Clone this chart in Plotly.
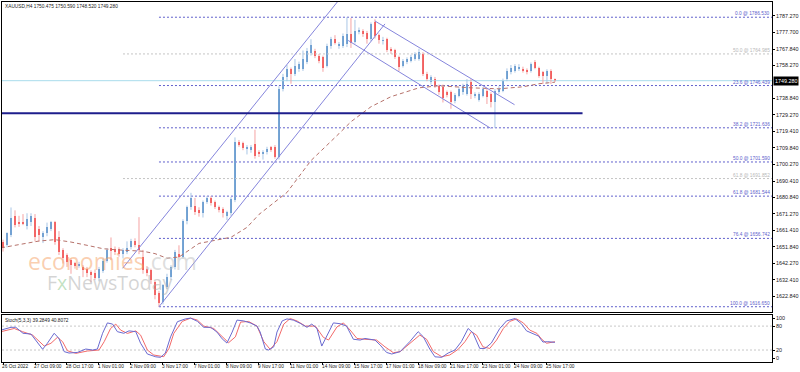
import plotly.graph_objects as go

# ---------------- data ----------------
opens = [1654.4, 1652.7, 1658.5, 1669.6, 1666.1, 1666.5, 1664.3, 1666.1, 1669.0, 1662.5,
         1657.3, 1659.7, 1662.5, 1666.1, 1657.3, 1649.8, 1646.8, 1643.9, 1642.2, 1640.6,
         1639.9, 1638.7, 1637.0, 1636.5, 1633.5, 1637.5, 1643.3, 1650.9, 1650.3, 1650.3,
         1647.4, 1648.6, 1651.5, 1655.0, 1652.7, 1646.0, 1638.5, 1638.1, 1631.0, 1624.6,
         1619.5, 1628.5, 1634.0, 1640.0, 1647.5, 1646.0, 1667.0, 1675.0, 1675.5, 1673.2,
         1671.4, 1678.0, 1680.2, 1677.9, 1675.0, 1673.8, 1670.0, 1671.4, 1679.0, 1713.1,
         1712.5, 1709.0, 1708.7, 1712.2, 1707.3, 1706.0, 1707.3, 1710.2, 1710.2, 1704.3,
         1744.4, 1751.2, 1756.1, 1753.1, 1756.1, 1756.1, 1760.0, 1765.4, 1766.8, 1763.9,
         1762.9, 1758.0, 1769.7, 1773.6, 1769.5, 1769.7, 1770.9, 1776.6, 1772.0, 1778.0,
         1778.5, 1777.5, 1773.6, 1783.5, 1776.0, 1772.6, 1773.6, 1767.8, 1767.2, 1763.0,
         1758.0, 1760.5, 1761.0, 1762.0, 1762.0, 1764.9, 1753.2, 1748.3, 1750.2, 1746.3,
         1745.5, 1742.4, 1742.4, 1737.5, 1740.4, 1742.4, 1741.5, 1748.3, 1740.5, 1738.0,
         1740.4, 1743.4, 1741.5, 1736.5, 1742.4, 1743.4, 1750.2, 1754.1, 1755.1, 1756.1,
         1756.1, 1755.5, 1755.1, 1760.5, 1757.0, 1754.1, 1752.2, 1755.1, 1750.475]
highs = [1656.0, 1660.3, 1674.9, 1673.2, 1670.0, 1671.0, 1671.5, 1671.5, 1671.0, 1664.0,
         1661.0, 1666.0, 1667.0, 1667.0, 1661.0, 1651.0, 1648.0, 1645.0, 1643.0, 1643.0,
         1641.0, 1640.0, 1638.0, 1638.5, 1640.0, 1645.0, 1651.0, 1657.3, 1652.0, 1651.5,
         1651.0, 1655.0, 1656.5, 1656.8, 1669.2, 1650.0, 1640.5, 1639.0, 1632.0, 1626.0,
         1630.0, 1636.0, 1641.0, 1650.0, 1652.7, 1668.0, 1676.0, 1683.5, 1680.5, 1675.0,
         1679.0, 1681.5, 1681.5, 1679.0, 1676.0, 1675.0, 1673.0, 1681.0, 1716.0, 1714.5,
         1713.5, 1711.5, 1711.5, 1720.5, 1708.5, 1708.5, 1710.5, 1711.0, 1711.5, 1746.0,
         1753.3, 1758.5, 1757.0, 1762.0, 1760.5, 1767.0, 1768.5, 1773.6, 1768.0, 1765.0,
         1764.0, 1771.0, 1775.0, 1776.0, 1772.0, 1777.0, 1786.53, 1786.0, 1785.0, 1780.5,
         1779.5, 1778.5, 1783.5, 1785.3, 1777.0, 1775.0, 1774.5, 1769.0, 1768.0, 1764.0,
         1762.0, 1763.0, 1764.5, 1766.0, 1768.0, 1766.0, 1754.5, 1752.5, 1751.5, 1747.0,
         1747.0, 1743.5, 1743.5, 1742.0, 1745.5, 1747.5, 1750.2, 1750.2, 1742.5, 1742.5,
         1745.5, 1744.5, 1742.5, 1744.5, 1746.0, 1750.5, 1756.5, 1758.5, 1759.0, 1759.0,
         1757.5, 1756.5, 1760.0, 1761.4, 1757.5, 1755.0, 1756.0, 1756.0, 1750.59]
lows = [1649.0, 1651.5, 1657.5, 1663.2, 1663.5, 1664.5, 1662.0, 1664.0, 1655.0, 1655.0,
        1654.0, 1658.0, 1661.0, 1653.0, 1647.0, 1642.0, 1640.0, 1636.0, 1639.0, 1639.5,
        1634.0, 1634.0, 1631.0, 1632.5, 1631.5, 1636.5, 1642.5, 1644.0, 1647.0, 1646.0,
        1645.0, 1647.5, 1650.3, 1651.5, 1647.5, 1636.0, 1634.5, 1630.0, 1621.0, 1616.65,
        1618.0, 1627.0, 1632.5, 1638.5, 1645.0, 1645.0, 1665.0, 1673.5, 1670.5, 1669.5,
        1669.0, 1677.0, 1676.0, 1674.0, 1672.0, 1669.0, 1667.5, 1670.0, 1678.0, 1710.5,
        1708.5, 1706.0, 1707.0, 1703.5, 1704.5, 1703.0, 1706.0, 1707.5, 1703.5, 1703.0,
        1743.0, 1749.0, 1747.5, 1752.0, 1754.5, 1755.0, 1759.0, 1764.0, 1762.5, 1759.5,
        1754.5, 1757.0, 1768.0, 1770.5, 1768.0, 1768.5, 1769.0, 1768.5, 1771.0, 1776.5,
        1775.0, 1771.0, 1772.5, 1774.0, 1771.0, 1770.5, 1766.0, 1765.0, 1762.0, 1755.0,
        1757.0, 1759.0, 1760.0, 1761.0, 1761.0, 1752.0, 1749.0, 1747.0, 1745.0, 1741.0,
        1736.5, 1739.5, 1732.8, 1736.0, 1739.5, 1741.0, 1740.5, 1738.5, 1739.0, 1737.0,
        1739.5, 1735.6, 1733.6, 1721.6, 1741.5, 1742.5, 1749.0, 1753.0, 1754.0, 1755.0,
        1754.0, 1753.0, 1754.0, 1756.0, 1751.0, 1747.3, 1747.5, 1747.3, 1748.52]
closes = [1650.9, 1659.7, 1668.5, 1664.4, 1665.0, 1665.3, 1667.9, 1669.6, 1657.3, 1658.5,
          1659.7, 1663.2, 1666.1, 1654.4, 1648.6, 1645.1, 1642.8, 1641.0, 1640.6, 1641.5,
          1638.1, 1636.3, 1635.3, 1633.5, 1638.5, 1643.3, 1649.8, 1649.2, 1648.6, 1647.4,
          1649.8, 1650.9, 1655.0, 1652.7, 1649.8, 1638.0, 1636.5, 1632.2, 1623.4, 1618.8,
          1629.3, 1634.0, 1640.0, 1648.6, 1645.8, 1667.0, 1675.0, 1680.5, 1672.5, 1671.4,
          1678.0, 1680.2, 1677.3, 1675.0, 1673.2, 1671.4, 1672.0, 1679.6, 1713.1, 1711.8,
          1709.8, 1710.6, 1710.2, 1705.3, 1706.3, 1707.3, 1709.3, 1708.7, 1704.3, 1744.4,
          1751.2, 1756.1, 1753.3, 1758.0, 1759.0, 1761.9, 1766.8, 1770.1, 1763.9, 1761.0,
          1757.0, 1769.7, 1773.6, 1771.6, 1770.8, 1775.6, 1776.7, 1771.6, 1778.5, 1779.0,
          1776.6, 1773.6, 1782.4, 1775.6, 1773.0, 1773.3, 1767.2, 1766.8, 1763.0, 1757.5,
          1761.0, 1762.0, 1763.3, 1765.0, 1765.9, 1753.2, 1750.2, 1751.2, 1746.3, 1742.4,
          1739.0, 1741.0, 1737.0, 1741.0, 1744.4, 1746.3, 1747.3, 1741.5, 1741.5, 1741.5,
          1744.4, 1739.5, 1736.5, 1743.4, 1744.4, 1749.2, 1755.1, 1757.0, 1758.0, 1757.4,
          1754.7, 1754.1, 1759.0, 1757.0, 1752.2, 1752.2, 1755.1, 1750.2, 1749.28]

date_labels = ["26 Oct 2022", "27 Oct 09:00", "28 Oct 17:00", "1 Nov 01:00", "2 Nov 09:00",
               "3 Nov 17:00", "7 Nov 01:00", "8 Nov 09:00", "9 Nov 17:00", "11 Nov 01:00",
               "14 Nov 09:00", "15 Nov 17:00", "17 Nov 01:00", "18 Nov 09:00", "21 Nov 17:00",
               "23 Nov 01:00", "24 Nov 09:00", "25 Nov 17:00"]
date_label_bars = [0, 8, 16, 24, 32, 40, 48, 56, 64, 72, 80, 88, 96, 104, 112, 120, 128, 136]

price_ticks = [1787.27, 1777.70, 1767.84, 1758.27, 1738.84, 1729.27, 1719.41, 1709.84,
               1700.27, 1690.41, 1680.84, 1671.27, 1661.41, 1651.84, 1642.27, 1632.41,
               1622.84, 1613.27]

ma_bars = [-0.5, 5, 9, 13, 17, 21, 25, 28, 31, 35, 38, 41, 44, 46, 49, 53, 57, 61, 64, 71,
           77, 84, 87, 92, 97, 104, 109, 117, 124, 130, 134, 138]
ma_values = [1651.2, 1653.5, 1655.2, 1656.0, 1654.6, 1652.7, 1650.7, 1650.1, 1649.8, 1649.2,
             1647.8, 1645.1, 1645.8, 1649.2, 1653.8, 1655.6, 1657.4, 1663.2, 1670.8, 1683.7,
             1702.4, 1718.2, 1725.2, 1734.0, 1739.9, 1745.1, 1746.3, 1745.1, 1744.5, 1745.7,
             1747.5, 1748.4]

fib_levels = ["0.0", "23.6", "38.2", "50.0", "61.8", "76.4", "100.0"]
fib_prices = [1786.530, 1746.439, 1721.636, 1701.590, 1681.544, 1656.742, 1616.650]
fib_start_bar = 39
gray_fib_levels = ["50.0", "61.8"]
gray_fib_prices = [1764.985, 1691.852]
gray_fib_start_bar = 30

up_channel_upper_bars = [29.9, 83.6]
up_channel_upper_prices = [1639.2, 1795.5]
up_channel_lower_bars = [39.0, 95.5]
up_channel_lower_prices = [1616.65, 1782.6]
down_channel_upper_bars = [93.0, 127.9]
down_channel_upper_prices = [1784.3, 1735.2]
down_channel_lower_bars = [86.3, 121.9]
down_channel_lower_prices = [1772.9, 1721.4]

support_price = 1730.2
support_end_bar = 144.9
bid_price = 1749.28

stoch_k_bars = [-0.5, 2, 3.2, 5, 7, 9.9, 11.1, 12.8, 14, 15.3, 16.5, 18.6, 20.7, 22.4, 23.6,
                24.9, 26.1, 27.4, 28.6, 30.2, 31.5, 33.2, 34.4, 36.1, 38.2, 39.4, 40.6, 41.9,
                43.6, 45.6, 46.9, 48.6, 50.2, 51.9, 53.5, 54.8, 56, 57.3, 58.5, 60.2, 61.8,
                63.5, 64.3, 65.6, 66.4, 67.7, 68.5, 69.8, 71, 72.6, 74.3, 76, 77.2, 78.5, 79.7,
                81.4, 82.6, 84.3, 85.9, 87.6, 89.3, 90.5, 91.8, 93, 94.3, 95.9, 97.2, 98.4,
                99.3, 101.7, 103.8, 105.1, 106.7, 108, 109.7, 111.3, 113, 114.6, 116.3, 117.5,
                119.2, 120.5, 122.1, 124.2, 125.9, 128, 129.6, 130.9, 132.6, 133.9, 135, 136.2,
                138]
stoch_k = [70, 77, 77, 62, 60, 22, 37, 62, 49, 16, 12.5, 14, 22.5, 20, 22.5, 62, 88, 85, 66,
           62, 68, 66, 37, 10, 3, 1.7, 12.5, 53, 91, 98, 100, 92, 77, 77, 65, 48, 37.5, 65, 95,
           93, 88, 80, 65, 22.5, 20, 28, 65, 93, 98, 95, 87, 77, 85, 74, 30, 62, 88, 86, 80,
           47, 45, 49, 47, 45, 32.5, 14, 10, 14, 16, 41, 66, 53, 22.5, 3, 1.7, 12.5, 20, 41,
           74, 63, 24, 24, 37.5, 74, 93, 99, 86, 68, 61.7, 55, 40, 41, 39.2849]
stoch_d_bars = [-0.5, 2.8, 4.9, 7.4, 10.3, 12, 13.6, 14.9, 16.1, 18.2, 21.1, 24, 25.3, 26.9,
                28.2, 29.4, 31.1, 33.2, 34.4, 36.1, 37.7, 40.2, 41.5, 42.7, 44.8, 46.9, 48.6,
                50.2, 52.7, 54.4, 56.4, 58.1, 59.4, 61.4, 63.5, 65.2, 66.8, 68.5, 70.2, 71.8,
                73.5, 75.6, 78.1, 80.1, 81.4, 83.5, 85.1, 86.8, 88.5, 90.5, 93.4, 95.5, 97.6,
                99.3, 101.7, 104.2, 105.9, 107.6, 109.7, 111.7, 113.8, 115.5, 117.1, 118.4, 120,
                121.7, 123.4, 125.1, 126.7, 128.4, 130.1, 131.7, 133.5, 134.7, 135.9, 138]
stoch_d = [66, 74, 66, 57.5, 30, 37, 51.7, 41, 18.3, 11.7, 17.5, 20, 41, 74, 85, 70, 61.7, 68,
           57.5, 20, 7.5, 3.3, 24, 61.7, 91.7, 100, 95, 80, 74, 57.5, 38.3, 53, 90, 91.7, 80,
           41, 21.7, 41, 85, 99, 93, 80, 80, 51.7, 45, 78, 88, 70, 49, 47, 45, 28, 13.3, 16,
           37, 57.5, 47, 16, 3.3, 7.5, 21.7, 41, 66, 57.5, 28, 24, 45, 74, 91.7, 98, 88, 70,
           61.7, 47, 37, 40.8072]
stoch_levels = [20, 80]
stoch_ticks = [0, 20, 80, 100]

# ---------------- styling ----------------
FONT = "Liberation Sans, Arial, sans-serif"
SMALL = 5.4
TINY = 4.8
UP_BODY = "#3f7fc0"
UP_WICK = "#a9c6e6"
DN_BODY = "#f02a2a"
DN_WICK = "#f5a3a3"
FIB_COLOR = "#6060cc"
GRAY_FIB = "#c4c4c4"
CHANNEL = "#8585dc"
X_LEFT, X_RIGHT = -0.25, 192.27

n = len(opens)
bars = list(range(n))

fig = go.Figure()

# horizontal bid line (behind candles)
fig.add_trace(go.Scatter(x=[X_LEFT, X_RIGHT], y=[bid_price, bid_price], mode="lines",
                         line=dict(color="#a8dcec", width=1), hoverinfo="skip"))

# fibonacci levels
for lvl, p in zip(fib_levels, fib_prices):
    fig.add_trace(go.Scatter(x=[fib_start_bar, X_RIGHT], y=[p, p], mode="lines",
                             line=dict(color=FIB_COLOR, width=1, dash="2px,2px"),
                             hoverinfo="skip"))
for lvl, p in zip(gray_fib_levels, gray_fib_prices):
    fig.add_trace(go.Scatter(x=[gray_fib_start_bar, X_RIGHT], y=[p, p], mode="lines",
                             line=dict(color=GRAY_FIB, width=1, dash="2px,2px"),
                             hoverinfo="skip"))

# candle wicks
def wick_xy(up):
    xs, ys = [], []
    for i in bars:
        if (closes[i] >= opens[i]) == up:
            xs += [i, i, None]
            ys += [lows[i], highs[i], None]
    return xs, ys

for up, col in ((True, UP_WICK), (False, DN_WICK)):
    wx, wy = wick_xy(up)
    fig.add_trace(go.Scatter(x=wx, y=wy, mode="lines", line=dict(color=col, width=1),
                             hoverinfo="skip"))

# candle bodies
for up, col in ((True, UP_BODY), (False, DN_BODY)):
    idx = [i for i in bars if (closes[i] >= opens[i]) == up]
    fig.add_trace(go.Bar(x=idx,
                         base=[min(opens[i], closes[i]) for i in idx],
                         y=[max(abs(closes[i] - opens[i]), 0.4) for i in idx],
                         width=0.72, marker=dict(color=col, line=dict(width=0)),
                         hoverinfo="skip"))

# moving average
fig.add_trace(go.Scatter(x=ma_bars, y=ma_values, mode="lines",
                         line=dict(color="#b5716a", width=1, dash="4px,3px"),
                         hoverinfo="skip"))

# channels
for bx, py in ((up_channel_upper_bars, up_channel_upper_prices),
               (up_channel_lower_bars, up_channel_lower_prices),
               (down_channel_upper_bars, down_channel_upper_prices),
               (down_channel_lower_bars, down_channel_lower_prices)):
    fig.add_trace(go.Scatter(x=bx, y=py, mode="lines", line=dict(color=CHANNEL, width=1),
                             hoverinfo="skip"))

# support line
fig.add_trace(go.Scatter(x=[X_LEFT, support_end_bar], y=[support_price, support_price],
                         mode="lines", line=dict(color="#1e1e8c", width=2), hoverinfo="skip"))

# stochastic pane
for lv in stoch_levels:
    fig.add_trace(go.Scatter(x=[X_LEFT, X_RIGHT], y=[lv, lv], mode="lines",
                             line=dict(color="#c8c8c8", width=1, dash="2px,2px"),
                             xaxis="x2", yaxis="y2", hoverinfo="skip"))
fig.add_trace(go.Scatter(x=stoch_d_bars, y=stoch_d, mode="lines",
                         line=dict(color="#f26a6a", width=1), xaxis="x2", yaxis="y2",
                         hoverinfo="skip"))
fig.add_trace(go.Scatter(x=stoch_k_bars, y=stoch_k, mode="lines",
                         line=dict(color="#6a6ad0", width=1), xaxis="x2", yaxis="y2",
                         hoverinfo="skip"))

annotations = []
# fib labels
for lvl, p in zip(fib_levels, fib_prices):
    annotations.append(dict(x=1, xref="paper", y=p, yref="y", xanchor="right", yanchor="bottom",
                            text=f"{lvl} @ {p:.3f}", showarrow=False, borderpad=0,
                            font=dict(size=TINY, color=FIB_COLOR, family=FONT), xshift=-1))
for lvl, p in zip(gray_fib_levels, gray_fib_prices):
    annotations.append(dict(x=1, xref="paper", y=p, yref="y", xanchor="right", yanchor="bottom",
                            text=f"{lvl} @ {p:.3f}", showarrow=False, borderpad=0,
                            font=dict(size=TINY, color="#b8b8b8", family=FONT), xshift=-1))
# current price box
annotations.append(dict(x=1, xref="paper", y=bid_price, yref="y", xanchor="left",
                        yanchor="middle", text=f"{bid_price:.3f}", showarrow=False,
                        bgcolor="black", borderpad=1, xshift=1,
                        font=dict(size=SMALL, color="white", family=FONT)))
# title texts
annotations.append(dict(x=0, xref="paper", y=1, yref="paper", xanchor="left", yanchor="top",
                        text="XAUUSD,H4 1750.475 1750.590 1748.520 1749.280", showarrow=False,
                        xshift=2, yshift=-1, borderpad=0,
                        font=dict(size=TINY, color="#202020", family=FONT)))
annotations.append(dict(x=0, xref="paper", y=1, yref="y2 domain", xanchor="left", yanchor="top",
                        text="Stoch(5,3,3) 39.2849 40.8072", showarrow=False,
                        xshift=2, yshift=-2, borderpad=0,
                        font=dict(size=TINY, color="#202020", family=FONT)))
# date labels
for b, t in zip(date_label_bars, date_labels):
    annotations.append(dict(x=b - 0.25, xref="x2", y=0, yref="paper", xanchor="left",
                            yanchor="middle", yshift=-4, xshift=-1, text=t, showarrow=False,
                            borderpad=0, font=dict(size=TINY, color="#202020", family=FONT)))
# watermark
annotations.append(dict(x=0.1438, xref="paper", y=0.2798, yref="paper", showarrow=False,
                        xanchor="center", yanchor="middle",
                        text="<span style='color:rgba(245,160,100,0.5)'>economies</span>"
                             "<span style='color:rgba(190,190,190,0.5)'>.com</span>",
                        font=dict(size=23, family="Open Sans, sans-serif")))
annotations.append(dict(x=0.140, xref="paper", y=0.2216, yref="paper", showarrow=False,
                        xanchor="center", yanchor="middle",
                        text="<span style='color:rgba(170,170,170,0.5)'>F</span>"
                             "<span style='color:rgba(120,190,120,0.45)'>x</span>"
                             "<span style='color:rgba(170,170,170,0.5)'>NewsToday</span>",
                        font=dict(size=19.5, family="Open Sans, sans-serif")))

axis_common = dict(showgrid=False, zeroline=False, showline=True, mirror=True,
                   linecolor="black", linewidth=1)

fig.update_layout(
    width=800, height=372,
    margin=dict(l=1, r=27, t=1, b=10),
    paper_bgcolor="white", plot_bgcolor="white",
    showlegend=False, barmode="overlay", bargap=0,
    xaxis=dict(domain=[0, 1], range=[X_LEFT, X_RIGHT], anchor="y", showticklabels=False,
               ticks="", **axis_common),
    yaxis=dict(domain=[0.1385, 1], range=[1613.47, 1795.46], side="right", anchor="x",
               tickvals=price_ticks, ticktext=[f"{v:.3f}" for v in price_ticks],
               ticks="outside", ticklen=2, tickcolor="black",
               tickfont=dict(size=SMALL, color="#202020", family=FONT), **axis_common),
    xaxis2=dict(domain=[0, 1], range=[X_LEFT, X_RIGHT], anchor="y2", matches="x",
                showticklabels=False, tickvals=date_label_bars, ticks="outside", ticklen=2,
                tickcolor="black", **axis_common),
    yaxis2=dict(domain=[0, 0.1302], range=[-10, 107.5], side="right", anchor="x2",
                tickvals=stoch_ticks, ticktext=[str(v) for v in stoch_ticks],
                ticks="outside", ticklen=2, tickcolor="black",
                tickfont=dict(size=SMALL, color="#202020", family=FONT), **axis_common),
    annotations=annotations,
)

fig.write_html("out.html", config={"displayModeBar": False, "staticPlot": True},
               post_script="document.body.style.margin='0px';document.body.style.overflow='hidden';")
